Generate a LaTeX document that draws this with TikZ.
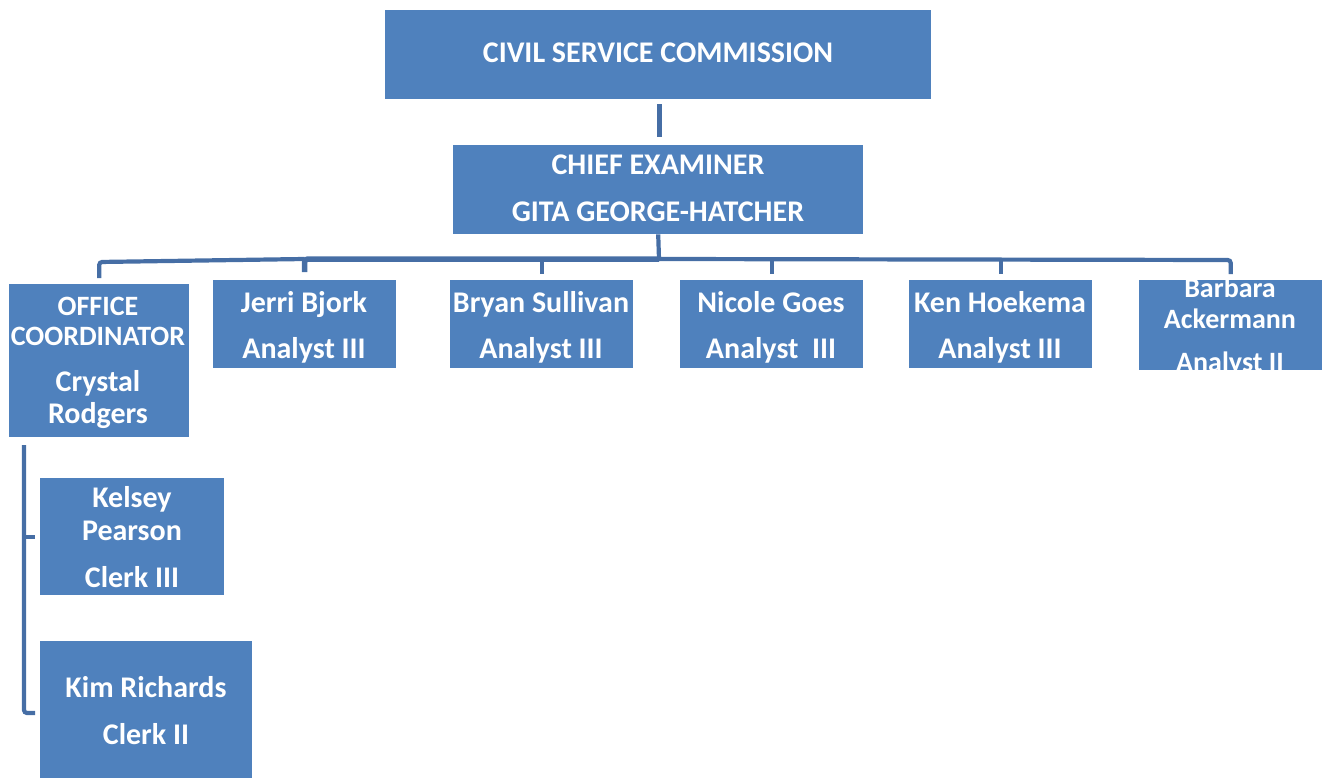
\documentclass[tikz,border=0pt]{standalone}
\usepackage{fontspec}
\setmainfont{Carlito}
\definecolor{boxblue}{RGB}{79,129,189}
\definecolor{lineblue}{RGB}{70,110,165}
\begin{document}
\begin{tikzpicture}[x=1pt,y=-1pt,
  box/.style={fill=boxblue,draw=none,inner sep=0pt,anchor=north west},
  txt/.style={text=white,inner sep=0pt,anchor=base,font=\fontsize{30}{36}\selectfont\bfseries},
  stxt/.style={txt,font=\fontsize{28}{34}\selectfont\bfseries},
  conn/.style={draw=lineblue,line width=4.2pt,rounded corners=3pt}]
\useasboundingbox (0,0) rectangle (1322,778);
% boxes
\node[box,minimum width=546pt,minimum height=89pt] (csc) at (385,10) {};
\node[box,minimum width=410pt,minimum height=89pt] (chief) at (453,145) {};
\node[box,minimum width=180pt,minimum height=153pt] (office) at (9,284) {};
\node[box,minimum width=183pt,minimum height=88pt] (jerri) at (213,280) {};
\node[box,minimum width=183pt,minimum height=88pt] (bryan) at (450,280) {};
\node[box,minimum width=183pt,minimum height=88pt] (nicole) at (680,280) {};
\node[box,minimum width=183pt,minimum height=88pt] (ken) at (909,280) {};
\node[box,minimum width=183pt,minimum height=90pt] (barbara) at (1139,280) {};
\node[box,minimum width=184pt,minimum height=117pt] (kelsey) at (40,478) {};
\node[box,minimum width=212pt,minimum height=137pt] (kim) at (40,641) {};
% texts
\node[txt] (csc-t) at (658,63) {CIVIL SERVICE COMMISSION};
\node[txt] (chief-t1) at (658,175) {CHIEF EXAMINER};
\node[txt] (chief-t2) at (658,222) {GITA GEORGE-HATCHER};
\node[stxt] (office-t1) at (98,315) {OFFICE};
\node[stxt] (office-t2) at (98,345) {COORDINATOR};
\node[txt] (office-t3) at (98,391) {Crystal};
\node[txt] (office-t4) at (98,423) {Rodgers};
\node[txt] (jerri-t1) at (304,312) {Jerri Bjork};
\node[txt] (jerri-t2) at (304,358) {Analyst III};
\node[txt] (bryan-t1) at (541,312) {Bryan Sullivan};
\node[txt] (bryan-t2) at (541,358) {Analyst III};
\node[txt] (nicole-t1) at (771,312) {Nicole Goes};
\node[txt] (nicole-t2) at (771,358) {Analyst\ \ III};
\node[txt] (ken-t1) at (1000,312) {Ken Hoekema};
\node[txt] (ken-t2) at (1000,358) {Analyst III};
\node[stxt] (barbara-t1) at (1230,297) {Barbara};
\node[stxt] (barbara-t2) at (1230,328) {Ackermann};
\node[stxt] (barbara-t3) at (1230,371) {Analyst II};
\node[txt] (kelsey-t1) at (132,507) {Kelsey};
\node[txt] (kelsey-t2) at (132,540) {Pearson};
\node[txt] (kelsey-t3) at (132,587) {Clerk III};
\node[txt] (kim-t1) at (146,697) {Kim Richards};
\node[txt] (kim-t2) at (146,744) {Clerk II};
% connectors
\coordinate (bus) at (659,259);
\draw[conn,line width=5pt] ([xshift=1pt,yshift=-5pt]csc.south) -- ([xshift=1pt,yshift=8pt]chief.north);
\draw[conn] (chief.south) -- (bus);
\draw[conn,line width=5.5pt] (bus) -- (jerri.north |- bus) -- ([yshift=8pt]jerri.north);
\draw[conn] (jerri.north |- bus) -- ([yshift=-3pt]office.north |- bus) -- ([yshift=6pt]office.north);
\draw[conn] (bus) -- ([yshift=-1pt]barbara.north |- bus) -- ([yshift=6pt]barbara.north);
\draw[conn] (bryan.north |- bus) -- ([yshift=6pt]bryan.north);
\draw[conn] (nicole.north |- bus) -- ([yshift=6pt]nicole.north);
\draw[conn] (ken.north |- bus) -- ([yshift=6pt]ken.north);
% clerks bracket
\coordinate (brtop) at (24,445);
\coordinate (brbot) at (24,713);
\coordinate (kelsey-in) at (35,537);
\coordinate (kim-in) at (35,713);
\draw[conn] (brtop) -- (brbot) -- (kim-in);
\draw[conn] (brtop |- kelsey-in) -- (kelsey-in);
\end{tikzpicture}
\end{document}
